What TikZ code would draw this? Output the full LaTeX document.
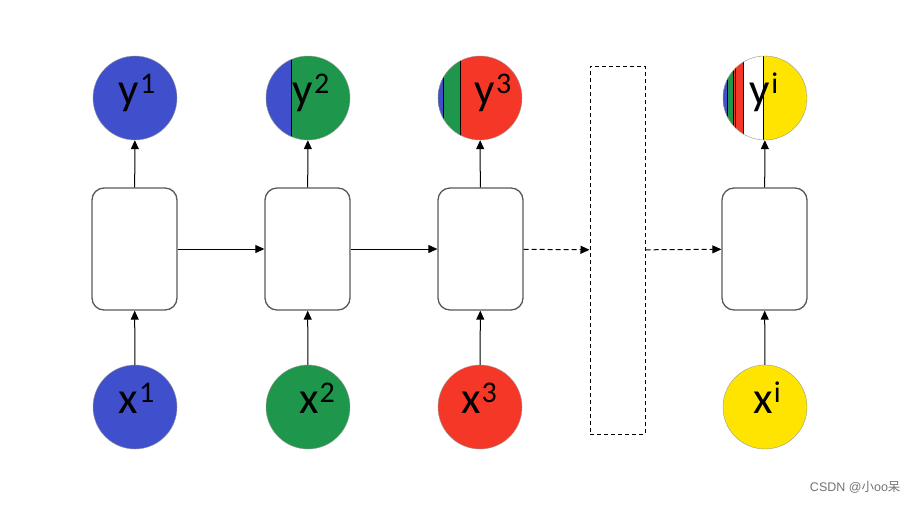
\documentclass[tikz,border=0pt]{standalone}
\usepackage{fontspec}
\setmainfont{Carlito}
\newfontfamily\cjkfont{Noto Sans CJK SC}
\newfontfamily\markfont{Liberation Sans}
\usepackage{xcolor}
\usetikzlibrary{positioning}
\usetikzlibrary{arrows.meta}

\definecolor{cblue}{RGB}{64,80,205}
\definecolor{cgreen}{RGB}{30,150,75}
\definecolor{cred}{RGB}{245,55,40}
\definecolor{cyellow}{RGB}{255,228,0}

\newcommand\upidx[1]{\smash{\raisebox{11pt}{\fontsize{30}{30}\selectfont\kern1pt #1}}}

\tikzset{
  cell/.style={draw=black!65, line width=1.3pt, rounded corners=12pt, minimum width=85pt, minimum height=122pt, inner sep=0pt},
  token/.style={circle, draw=black!40, thin, minimum size=84pt, inner sep=0pt, text height=13pt, text depth=0pt, font=\fontsize{45}{45}\selectfont},
  flow/.style={-{Triangle[length=9pt,width=8pt]}, line width=1pt},
  gapbox/.style={draw, dash pattern=on 4pt off 3pt, line width=1pt, minimum width=55pt, minimum height=368pt, inner sep=0pt},
}

\begin{document}
\begin{tikzpicture}[x=1pt,y=-1pt]
\useasboundingbox (0,0) rectangle (920,504);
% hidden cells
\node[cell] (h1) at (134.5,249) {};
\node[cell] (h2) at (307.5,249) {};
\node[cell] (h3) at (480.5,249) {};
\node[gapbox] (gap) at (617.5,250) {};
\node[cell] (hi) at (764.5,249) {};
% inputs
\node[token, fill=cblue] (x1) at (135,407) {\hspace*{3pt}x\upidx{1}};
\node[token, fill=cgreen] (x2) at (308,407) {\hspace*{18pt}x\upidx{2}};
\node[token, fill=cred] (x3) at (480,407) {\hspace*{-2pt}x\upidx{3}};
\node[token, fill=cyellow] (xi) at (765,407) {\hspace*{4pt}x\upidx{i}};
% outputs, striped
\begin{scope}
\clip (308,98) circle (42pt);
\fill[cgreen] (266,56) rectangle (350,140);
\fill[cblue] (266,56) rectangle (291,140);
\draw[line width=1pt] (291,56) -- (291,140);
\end{scope}
\begin{scope}
\clip (480,98) circle (42pt);
\fill[cred] (438,56) rectangle (522,140);
\fill[cgreen] (438,56) rectangle (460,140);
\fill[cblue] (438,56) rectangle (443,140);
\draw[line width=1pt] (443,56) -- (443,140);
\draw[line width=1pt] (460,56) -- (460,140);
\end{scope}
\begin{scope}
\clip (765,98) circle (42pt);
\fill[cyellow] (723,56) rectangle (807,140);
\fill[white] (723,56) rectangle (763,140);
\fill[cred] (723,56) rectangle (743,140);
\fill[cgreen] (723,56) rectangle (733,140);
\fill[cblue] (723,56) rectangle (727,140);
\draw[line width=0.6pt] (727,56) -- (727,140);
\draw[line width=0.6pt] (733,56) -- (733,140);
\draw[line width=0.6pt] (735,56) -- (735,140);
\draw[line width=0.6pt] (743,56) -- (743,140);
\draw[line width=1pt] (763,56) -- (763,140);
\end{scope}
\node[token, fill=cblue] (y1) at (135,98) {\hspace*{4pt}y\upidx{1}};
\node[token] (y2) at (308,98) {\hspace*{6pt}y\upidx{2}};
\node[token] (y3) at (480,98) {\hspace*{26pt}y\upidx{3}};
\node[token] (yi) at (765,98) {\hspace*{-2pt}y\upidx{i}};
% connectors
\foreach \n in {1,2,3,i}{
  \draw[flow] (x\n) -- (h\n);
  \draw[flow] (h\n) -- (y\n);
}
\draw[flow] (h1) -- (h2);
\draw[flow] (h2) -- (h3);
\draw[flow, dash pattern=on 5pt off 3pt] (h3) -- (gap);
\draw[flow, dash pattern=on 5pt off 3pt] (gap) -- (hi);
% watermark
\node[anchor=east, text=black!55, font=\markfont\fontsize{12.5}{12.5}\selectfont] (mark) at (904,487) {CSDN @{\cjkfont 小}oo{\cjkfont 呆}};
\end{tikzpicture}
\end{document}
